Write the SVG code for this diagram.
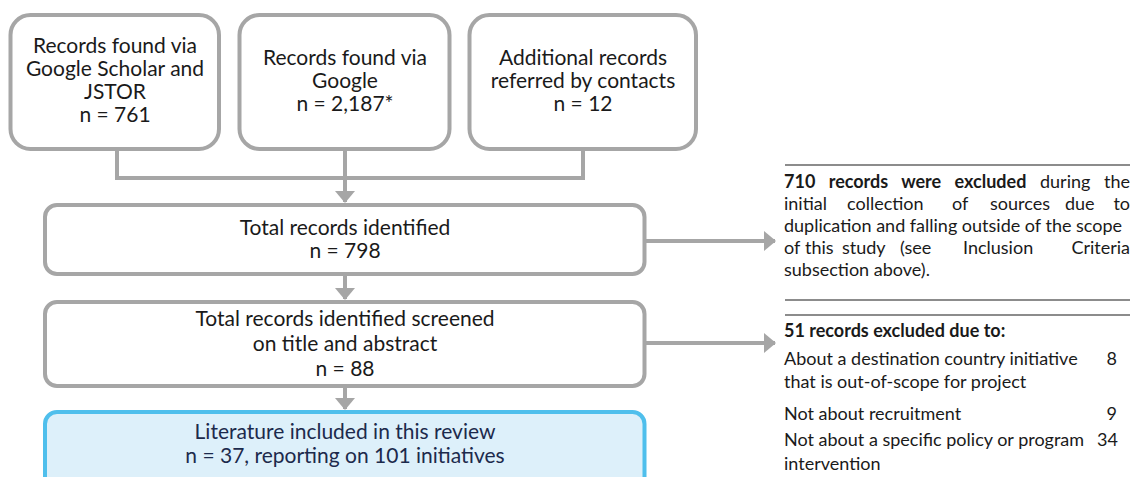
<svg xmlns="http://www.w3.org/2000/svg" width="1137" height="477" viewBox="0 0 1137 477">
<defs>
<style>
.box{fill:#ffffff;stroke:#a6a6a6;stroke-width:4}
.final{fill:#ddf0fa;stroke:#4fbfec;stroke-width:4}
.t{font-family:Lato,"Open Sans",sans-serif;font-size:21px;fill:#1a1a1a;text-anchor:middle}
.tf{font-family:Lato,"Open Sans",sans-serif;font-size:21px;fill:#1c2a4c;text-anchor:middle}
.s{font-family:Lato,"Open Sans",sans-serif;font-size:18px;fill:#1a1a1a}
.b{font-weight:bold}
.e{text-anchor:end}
.con{fill:none;stroke:#a6a6a6;stroke-width:4}
.rule{stroke:#8c8c8c;stroke-width:2}
</style>
<marker id="ah" markerUnits="userSpaceOnUse" markerWidth="12" markerHeight="20" refX="11" refY="10" orient="auto">
<path d="M0,0 L12,10 L0,20 Z" fill="#a6a6a6"/>
</marker>
</defs>
<rect width="1137" height="477" fill="#ffffff"/>
<g id="connectors">
<path class="con" d="M117,149 V178 H583 V149"/>
<path class="con" d="M345,149 V202" marker-end="url(#ah)"/>
<path class="con" d="M345,276 V299" marker-end="url(#ah)"/>
<path class="con" d="M345,388 V409" marker-end="url(#ah)"/>
<path class="con" d="M646,241 H775" marker-end="url(#ah)"/>
<path class="con" d="M646,343 H775" marker-end="url(#ah)"/>
</g>
<g id="node-scholar">
<rect class="box" x="10.5" y="15" width="208.5" height="134" rx="20"/>
<text class="t"><tspan x="115" y="53">Records found via</tspan><tspan x="115" y="76">Google Scholar and</tspan><tspan x="115" y="99">JSTOR</tspan><tspan x="115" y="122">n = 761</tspan></text>
</g>
<g id="node-google">
<rect class="box" x="239.5" y="15" width="210" height="134" rx="20"/>
<text class="t"><tspan x="345" y="65">Records found via</tspan><tspan x="345" y="88">Google</tspan><tspan x="345" y="111">n = 2,187*</tspan></text>
</g>
<g id="node-contacts">
<rect class="box" x="469.5" y="15" width="226.5" height="134" rx="20"/>
<text class="t"><tspan x="583" y="65">Additional records</tspan><tspan x="583" y="88">referred by contacts</tspan><tspan x="583" y="111">n = 12</tspan></text>
</g>
<g id="node-total">
<rect class="box" x="45" y="205" width="599.5" height="69" rx="12"/>
<text class="t"><tspan x="345" y="235">Total records identified</tspan><tspan x="345" y="258">n = 798</tspan></text>
</g>
<g id="node-screened">
<rect class="box" x="45" y="302" width="599.5" height="84" rx="12"/>
<text class="t"><tspan x="345" y="326">Total records identified screened</tspan><tspan x="345" y="351">on title and abstract</tspan><tspan x="345" y="376">n = 88</tspan></text>
</g>
<g id="node-included">
<rect class="final" x="45" y="412" width="599.5" height="100" rx="12"/>
<text class="tf"><tspan x="345" y="439">Literature included in this review</tspan><tspan x="345" y="463">n = 37, reporting on 101 initiatives</tspan></text>
</g>
<g id="node-excluded-1">
<line class="rule" x1="785" y1="165" x2="1130" y2="165"/>
<text class="s b" x="784" y="188" word-spacing="9">710 records were excluded</text>
<text class="s" x="1040" y="188">during</text>
<text class="s e" x="1130" y="188">the</text>
<text class="s"><tspan x="784" y="210">initial</tspan><tspan x="847" y="210">collection</tspan><tspan x="952" y="210">of</tspan><tspan x="990" y="210">sources</tspan><tspan x="1065" y="210">due</tspan></text>
<text class="s e" x="1130" y="210">to</text>
<text class="s" x="784" y="232">duplication and falling outside of the scope</text>
<text class="s"><tspan x="784" y="254">of</tspan><tspan x="805" y="254">this</tspan><tspan x="842" y="254">study</tspan><tspan x="900" y="254">(see</tspan><tspan x="963" y="254">Inclusion</tspan></text>
<text class="s e" x="1130" y="254">Criteria</text>
<text class="s" x="784" y="276">subsection above).</text>
<line class="rule" x1="785" y1="300" x2="1130" y2="300"/>
</g>
<g id="node-excluded-2">
<line class="rule" x1="785" y1="315" x2="1130" y2="315"/>
<text class="s b" x="784" y="337">51 records excluded due to:</text>
<text class="s" x="784" y="365">About a destination country initiative</text>
<text class="s e" x="1117" y="365">8</text>
<text class="s" x="784" y="388">that is out-of-scope for project</text>
<text class="s" x="784" y="420">Not about recruitment</text>
<text class="s e" x="1117" y="420">9</text>
<text class="s" x="784" y="446">Not about a specific policy or program</text>
<text class="s e" x="1118" y="446">34</text>
<text class="s" x="784" y="470">intervention</text>
</g>
</svg>
